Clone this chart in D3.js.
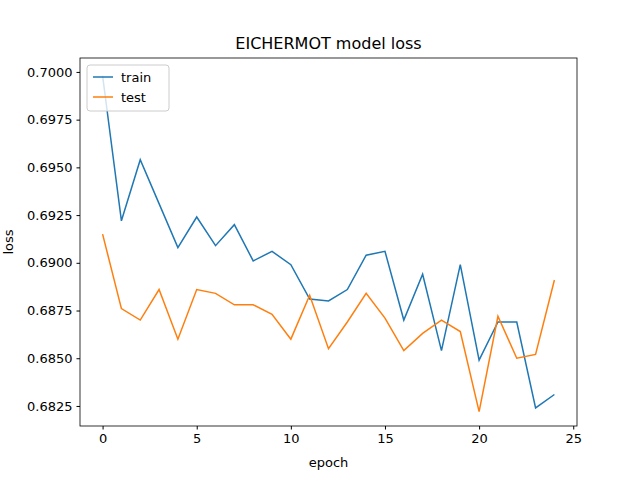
<!DOCTYPE html>
<html><head><meta charset="utf-8">
<script src="https://cdn.jsdelivr.net/npm/d3@7"></script>
<style>body{margin:0;background:#fff}text{font-family:"DejaVu Sans",sans-serif}</style>
</head><body><svg id="c" width="640" height="480"></svg>
<script>
var epochs = d3.range(25);
var train = [0.6998,0.6922,0.6954,0.6931,0.6908,0.6924,0.6909,0.6920,0.6901,0.6906,0.6899,0.6881,0.6880,0.6886,0.6904,0.6906,0.6870,0.6894,0.6854,0.6899,0.6849,0.6869,0.6869,0.6824,0.6831];
var test = [0.6915,0.6876,0.6870,0.6886,0.6860,0.6886,0.6884,0.6878,0.6878,0.6873,0.6860,0.6883,0.6855,0.6869,0.6884,0.6871,0.6854,0.6863,0.6870,0.6864,0.6822,0.6872,0.6850,0.6852,0.6891];
var xTicks = [0,5,10,15,20,25];
var yTicks = [0.6825,0.6850,0.6875,0.6900,0.6925,0.6950,0.6975,0.7000];

var svg = d3.select("#c");
var L = 80, R = 577, T = 58, B = 426;
var x = d3.scaleLinear().domain([-1.2, 25.2]).range([L, R]);
var y = d3.scaleLinear().domain([0.68145, 0.70073]).range([B, T]);

var line = d3.line().x(function(d, i){ return x(i); }).y(function(d){ return y(d); });
svg.append("path").datum(train).attr("d", line).attr("fill","none").attr("stroke","#1f77b4").attr("stroke-width",1.5);
svg.append("path").datum(test).attr("d", line).attr("fill","none").attr("stroke","#ff7f0e").attr("stroke-width",1.5);

svg.append("g").attr("transform","translate(0,"+B+")")
  .call(d3.axisBottom(x).tickValues(xTicks).tickSizeOuter(0).tickSize(3.5).tickPadding(4))
  .call(function(g){ g.select(".domain").remove(); g.selectAll("text").attr("font-size",13).attr("fill","#000"); });
svg.append("g").attr("transform","translate("+L+",0)")
  .call(d3.axisLeft(y).tickValues(yTicks).tickFormat(d3.format(".4f")).tickSizeOuter(0).tickSize(3.5).tickPadding(4))
  .call(function(g){ g.select(".domain").remove(); g.selectAll("text").attr("font-size",13).attr("fill","#000"); });
svg.append("rect").attr("x",L).attr("y",T).attr("width",R-L).attr("height",B-T).attr("fill","none").attr("stroke","#000").attr("stroke-width",0.8);

svg.append("text").attr("x",(L+R)/2).attr("y",T-9).attr("text-anchor","middle").attr("font-size",16).text("EICHERMOT model loss");
svg.append("text").attr("x",(L+R)/2).attr("y",467).attr("text-anchor","middle").attr("font-size",13).text("epoch");
svg.append("text").attr("transform","translate(13,"+((T+B)/2)+") rotate(-90)").attr("text-anchor","middle").attr("font-size",13).text("loss");

var lg = svg.append("g").attr("transform","translate("+(L+7)+","+(T+7)+")");
lg.append("rect").attr("width",82).attr("height",46).attr("rx",3).attr("fill","#fff").attr("fill-opacity",0.8).attr("stroke","#ccc");
[["train","#1f77b4"],["test","#ff7f0e"]].forEach(function(s, i){
  lg.append("line").attr("x1",6).attr("x2",26).attr("y1",12+i*20).attr("y2",12+i*20).attr("stroke",s[1]).attr("stroke-width",1.5);
  lg.append("text").attr("x",34).attr("y",17+i*20).attr("font-size",13).text(s[0]);
});
</script></body></html>
